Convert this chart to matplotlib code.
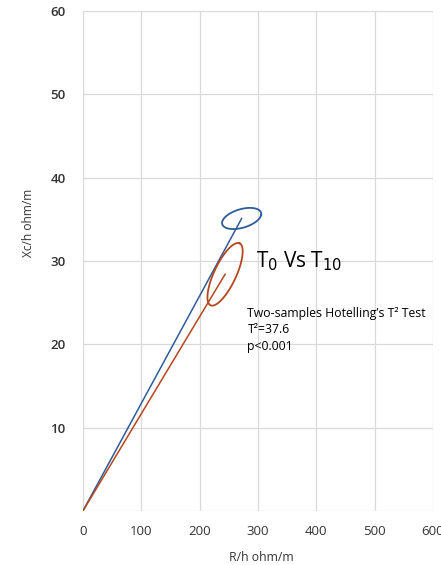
import numpy as np
import matplotlib.pyplot as plt

plt.rcParams['font.family'] = ['Open Sans', 'DejaVu Sans']

# mean vectors (R/h, Xc/h) for the two time points
t0_mean = [272, 35.1]
t10_mean = [243.6, 28.4]

# confidence ellipse axes, as (dx, dy) vectors in data units
t0_axis_a = [33.4, 0.42]
t0_axis_b = [3.4, 1.2]
t10_axis_a = [24.9, 3.72]
t10_axis_b = [17.1, -0.56]

x_ticks = [0, 100, 200, 300, 400, 500, 600]
y_ticks = [10, 20, 30, 40, 50, 60]

blue = '#2E5C9A'
red = '#B5461F'


def ellipse(center, a, b, n=200):
    t = np.linspace(0, 2 * np.pi, n)
    x = center[0] + a[0] * np.cos(t) + b[0] * np.sin(t)
    y = center[1] + a[1] * np.cos(t) + b[1] * np.sin(t)
    return x, y


fig = plt.figure(figsize=(4.41, 5.65), dpi=100)
ax = fig.add_axes([0.188, 0.0956, 0.794, 0.885])

ax.plot([0, t0_mean[0]], [0, t0_mean[1]], color=blue, lw=1.1)
ax.plot(*ellipse(t0_mean, t0_axis_a, t0_axis_b), color=blue, lw=1.3)
ax.plot([0, t10_mean[0]], [0, t10_mean[1]], color=red, lw=1.1)
ax.plot(*ellipse(t10_mean, t10_axis_a, t10_axis_b), color=red, lw=1.3)

ax.set_xlim(0, 600)
ax.set_ylim(0, 60)
ax.set_xticks(x_ticks)
ax.set_yticks([0] + y_ticks)
ax.set_yticklabels([''] + [str(v) for v in y_ticks])
ax.grid(True, color='#D9D9D9', lw=0.9)
ax.set_axisbelow(True)
for s in ax.spines.values():
    s.set_visible(False)
ax.tick_params(length=0, labelsize=9.5, colors='#333333')
ax.tick_params(axis='x', pad=10)
ax.tick_params(axis='y', pad=12.5)
for lbl in ax.get_yticklabels():
    lbl.set_fontweight('semibold')

ax.set_xlabel('R/h ohm/m', fontsize=8.8, color='#333333')
ax.xaxis.set_label_coords(0.51, -0.08)
ax.set_ylabel('Xc/h ohm/m', fontsize=8.6, color='#333333')
ax.yaxis.set_label_coords(-0.137, 0.576)

ax.text(296, 30.0, 'T$_0$ Vs T$_{10}$', fontsize=15, va='center', ha='left',
        color='black')
ax.text(282, 24.5, 'Two-samples Hotelling\u2019s T\u00b2 Test\nT\u00b2=37.6\np<0.001',
        fontsize=8.8, va='top', ha='left', linespacing=1.35, color='black')

fig.savefig('out.png', dpi=100)
